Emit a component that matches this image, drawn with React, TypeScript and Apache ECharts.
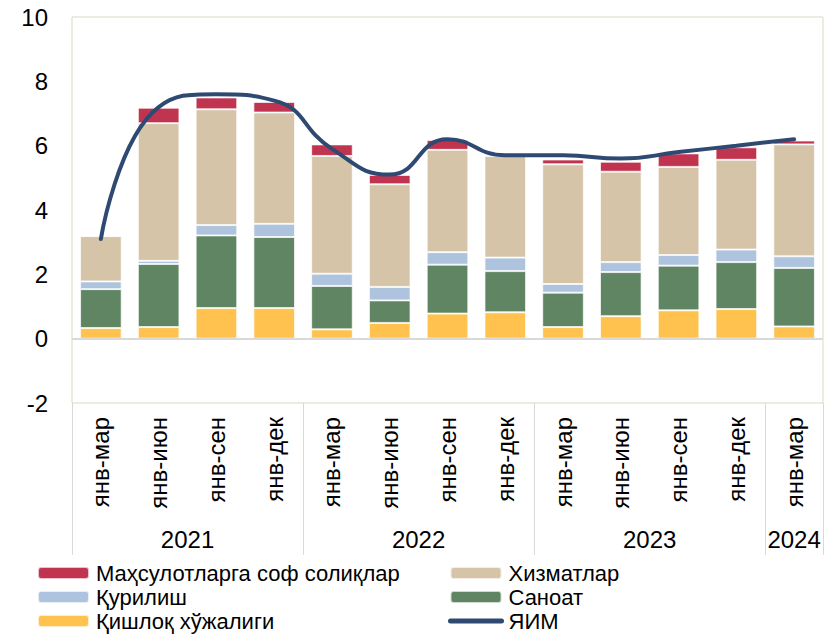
import React, { useEffect, useRef } from "react";
import * as echarts from "echarts";

const categories = [
  "янв-мар", "янв-июн", "янв-сен", "янв-дек",
  "янв-мар", "янв-июн", "янв-сен", "янв-дек",
  "янв-мар", "янв-июн", "янв-сен", "янв-дек",
  "янв-мар",
];
const years = ["2021", "2022", "2023", "2024"];
const yearCenters = [2, 6, 10, 12.5];
const quartersPerYear = 4;

const agriculture = [0.33, 0.36, 0.95, 0.95, 0.29, 0.49, 0.78, 0.82, 0.36, 0.70, 0.88, 0.92, 0.38];
const industry = [1.21, 1.96, 2.26, 2.21, 1.35, 0.70, 1.52, 1.28, 1.07, 1.37, 1.39, 1.46, 1.82];
const construction = [0.24, 0.10, 0.32, 0.41, 0.38, 0.42, 0.39, 0.42, 0.27, 0.31, 0.33, 0.39, 0.36];
const services = [1.41, 4.28, 3.60, 3.46, 3.66, 3.19, 3.18, 3.16, 3.72, 2.81, 2.74, 2.79, 3.48];
const netTaxes = [0, 0.48, 0.37, 0.33, 0.36, 0.29, 0.31, -0.05, 0.15, 0.31, 0.42, 0.39, 0.12];
const gdp = [3.1, 7.2, 7.6, 7.4, 5.9, 5.1, 6.2, 5.7, 5.7, 5.6, 5.8, 6.0, 6.2];

const FONT = "'Liberation Sans', Arial, sans-serif";

export default function App() {
  const ref = useRef<HTMLDivElement>(null);
  useEffect(() => {
    if (!ref.current) return;
    const chart = echarts.init(ref.current, null, { renderer: "svg" });
    const barCommon = {
      type: "bar",
      stack: "total",
      barWidth: "72%",
      xAxisIndex: 0,
      yAxisIndex: 0,
    };
    const border = { borderColor: "rgba(255,255,255,0.7)", borderWidth: 1 };
    const legendCommon = {
      orient: "vertical",
      top: 562,
      height: 90,
      padding: 0,
      itemWidth: 51,
      itemHeight: 12,
      itemGap: 2,
      textStyle: { fontSize: 22, color: "#000", lineHeight: 22, fontFamily: FONT, padding: [0, 0, 0, 2] },
    };
    chart.setOption({
      animation: false,
      textStyle: { fontFamily: FONT },
      grid: { left: 72, top: 17, right: 6, bottom: 234, show: true, borderColor: "#DDD8C3", borderWidth: 1 },
      xAxis: [
        {
          type: "category",
          data: categories,
          position: "bottom",
          axisLine: { show: false, onZero: false },
          axisTick: {
            show: true,
            interval: (i: number) => i % quartersPerYear === 0,
            length: 152,
            lineStyle: { color: "#D9D9D9", width: 1 },
          },
          axisLabel: { rotate: 90, fontSize: 24, color: "#000", margin: 14, fontFamily: FONT, interval: 0 },
        },
        {
          type: "value",
          min: 0,
          max: 13,
          position: "bottom",
          offset: 152,
          splitLine: { show: false },
          axisLine: { show: false },
          axisTick: { show: false },
          axisLabel: {
            show: true,
            inside: true,
            margin: 4,
            fontSize: 24,
            color: "#000",
            fontFamily: FONT,
            customValues: yearCenters,
            formatter: (v: number) => years[yearCenters.indexOf(v)] ?? "",
          },
        },
      ],
      yAxis: {
        type: "value",
        min: -2,
        max: 10,
        interval: 2,
        axisLine: { show: false },
        axisTick: { show: false },
        splitLine: { show: false },
        axisLabel: { fontSize: 24, color: "#000", margin: 24, fontFamily: FONT },
      },
      legend: [
        {
          ...legendCommon,
          left: 37,
          data: ["Маҳсулотларга соф солиқлар", "Қурилиш", "Қишлоқ хўжалиги"],
        },
        {
          ...legendCommon,
          left: 448,
          data: [
            "Хизматлар",
            "Саноат",
            { name: "ЯИМ", itemStyle: { opacity: 0, borderWidth: 0 }, lineStyle: { width: 5 } },
          ],
        },
      ],
      series: [
        {
          ...barCommon,
          name: "Қишлоқ хўжалиги",
          data: agriculture,
          itemStyle: { color: "#FFC24F", ...border },
          markLine: {
            silent: true,
            symbol: ["none", "none"],
            label: { show: false },
            lineStyle: { color: "#D9D9D9", type: "solid", width: 2 },
            data: [{ yAxis: 0 }],
          },
        },
        { ...barCommon, name: "Саноат", data: industry, itemStyle: { color: "#5F8562", ...border } },
        { ...barCommon, name: "Қурилиш", data: construction, itemStyle: { color: "#AEC3DE", ...border } },
        { ...barCommon, name: "Хизматлар", data: services, itemStyle: { color: "#D5C4A8", ...border } },
        { ...barCommon, name: "Маҳсулотларга соф солиқлар", data: netTaxes, itemStyle: { color: "#C0344F", ...border } },
        {
          type: "line",
          name: "ЯИМ",
          data: gdp,
          smooth: 0.5,
          symbol: "none",
          xAxisIndex: 0,
          yAxisIndex: 0,
          lineStyle: { color: "#2E4A72", width: 4, cap: "round" },
          itemStyle: { color: "#2E4A72" },
          z: 5,
        },
      ],
    });
    return () => chart.dispose();
  }, []);
  return <div ref={ref} style={{ position: "absolute", left: 0, top: 0, width: 829, height: 637 }} />;
}
